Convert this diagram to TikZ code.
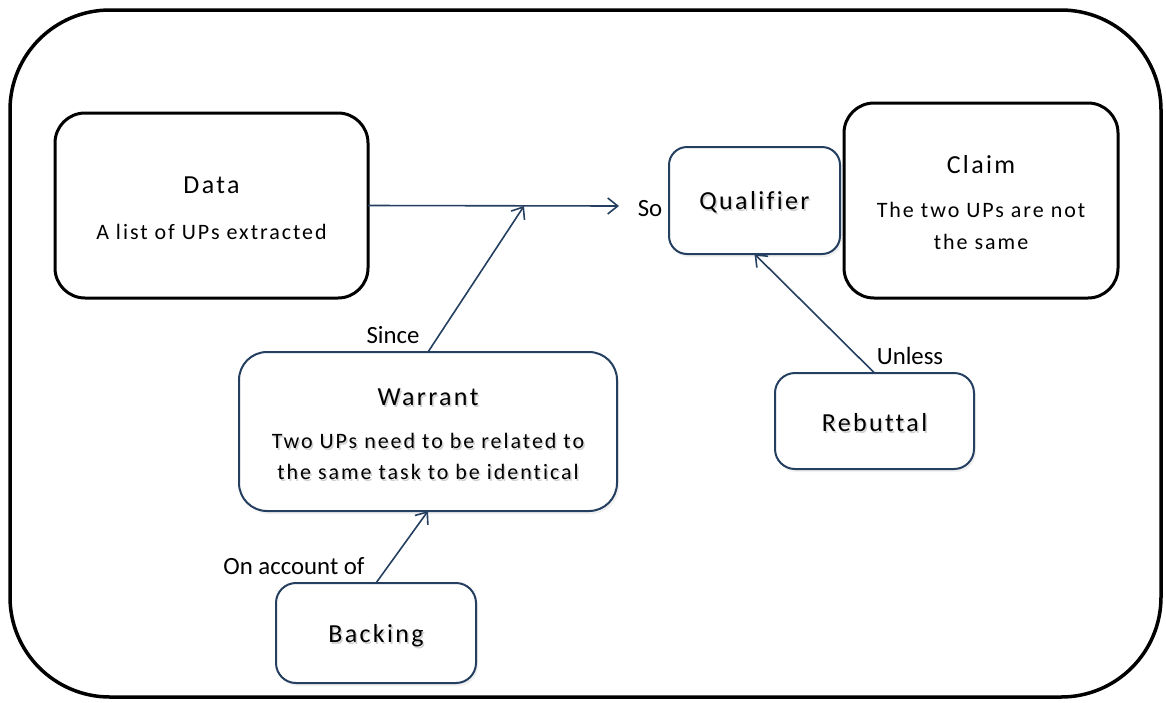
\documentclass[tikz,border=0pt]{standalone}
\usepackage{fontspec}
\setmainfont[Ligatures=NoCommon]{Carlito}
\newfontfamily\spacedfont[LetterSpace=9,Ligatures=NoCommon]{Carlito}
\usetikzlibrary{arrows.meta,shadows}
\definecolor{navy}{HTML}{243F60}

\tikzset{
  frame/.style={draw=black, line width=3.5pt, rounded corners=100pt},
  blackbox/.style={draw=black, line width=3pt, rounded corners=30pt, outer sep=0pt, inner sep=0pt},
  bluebox/.style={draw=navy, line width=2pt, fill=white, rounded corners=#1, outer sep=0pt, inner sep=0pt,
    drop shadow={shadow xshift=2pt, shadow yshift=-3pt, opacity=0.12}},
  bluebox/.default=20pt,
  title/.style={font=\spacedfont\fontsize{26}{31}\selectfont, anchor=base, inner sep=0pt},
  body/.style={font=\spacedfont\fontsize{22}{31}\selectfont, anchor=base, inner sep=0pt},
  lbl/.style={font=\fontsize{24.8}{29}\selectfont, anchor=base, inner sep=0pt},
  arr/.style={draw=navy, line width=1.6pt, -{Straight Barb[length=10pt,width=16pt,line width=1.6pt]}},
}

% text with a soft grey shadow below and to the right; #2 is a bare x,y pair
\newcommand\shadowed[4]{%
  \node[#3, text=black, opacity=0.18] (#1-sh) at ([shift={(1.5,2.5)}]#2) {#4};
  \node[#3] (#1) at (#2) {#4};}

\begin{document}
\begin{tikzpicture}[x=1pt,y=-1pt]
  \useasboundingbox (0,0) rectangle (1166,702);

  % outer frame
  \draw[frame] (10,10) rectangle (1161,697);

  % boxes
  \node[blackbox, minimum width=313pt, minimum height=185pt] (data) at (211.5,205.5) {};
  \node[blackbox, minimum width=274pt, minimum height=195pt] (claim) at (981,200.5) {};
  \node[bluebox=18pt, minimum width=171pt, minimum height=107pt] (qual) at (754.5,200.5) {};
  \node[bluebox=28pt, minimum width=378pt, minimum height=159pt] (warrant) at (428,431.5) {};
  \node[bluebox=20pt, minimum width=200pt, minimum height=100pt] (backing) at (376,633) {};
  \node[bluebox=20pt, minimum width=199pt, minimum height=96pt] (rebuttal) at (874.5,421) {};

  % box texts
  \node[title] (data-t) at (211.5,193) {Data};
  \node[body] (data-b) at (211.5,239) {A list of UPs extracted};

  \node[title] (claim-t) at (981,173) {Claim};
  \node[body] (claim-b1) at (981,217) {The two UPs are not};
  \node[body] (claim-b2) at (981,249) {the same};

  \shadowed{qual-t}{754.5,209}{title}{Qualifier}

  \shadowed{warrant-t}{428,405}{title}{Warrant}
  \shadowed{warrant-b1}{428,448}{body}{Two UPs need to be related to}
  \shadowed{warrant-b2}{428,479}{body}{the same task to be identical}

  \shadowed{backing-t}{376,642}{title}{Backing}
  \shadowed{rebuttal-t}{874.5,431}{title}{Rebuttal}

  % connectors
  \coordinate (soend) at (619,206);
  \coordinate (join) at (524,206);
  \draw[arr] (data.east) -- (soend);
  \draw[arr] (warrant.north) -- (join);
  \draw[arr] (backing.north) -- (warrant.south);
  \draw[arr] (rebuttal.north) -- (qual.south);

  % connector labels
  \node[lbl] (so) at (650,216) {So};
  \node[lbl] (since) at (393,343) {Since};
  \node[lbl] (onaccount) at (294,574) {On account of};
  \node[lbl] (unless) at (910,364) {Unless};
\end{tikzpicture}
\end{document}
